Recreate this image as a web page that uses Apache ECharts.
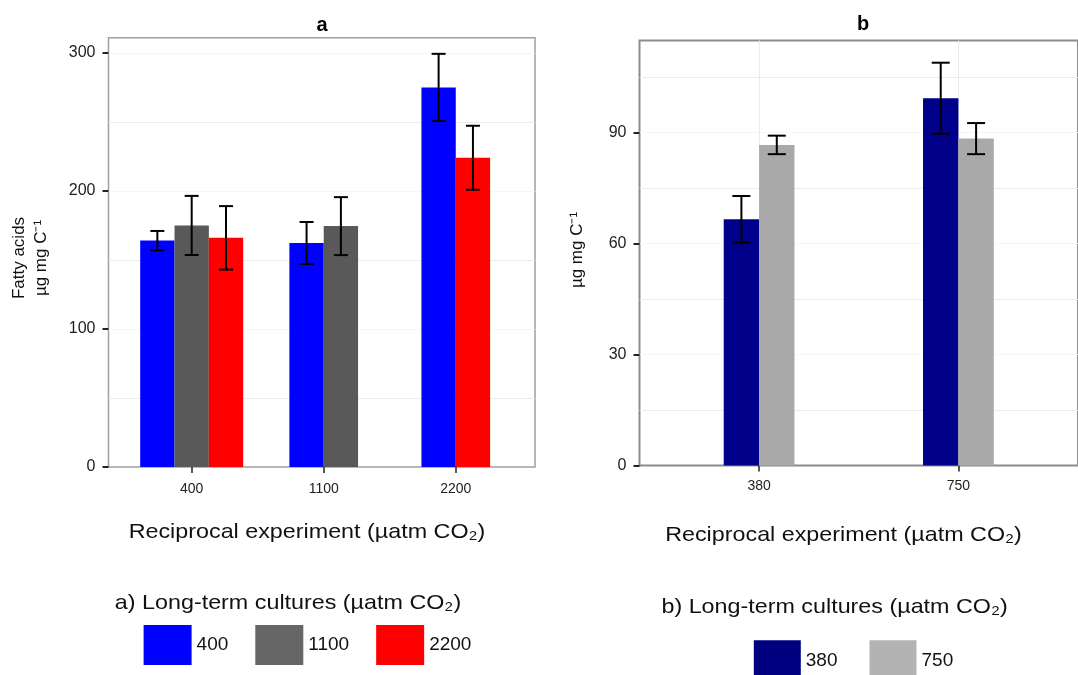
<!DOCTYPE html>
<html>
<head>
<meta charset="utf-8">
<script src="https://cdn.jsdelivr.net/npm/echarts@6/dist/echarts.min.js"></script>
<style>
html,body{margin:0;padding:0;background:#fff;}
#main{width:1078px;height:675px;}
</style>
</head>
<body>
<div id="main"></div>
<script>
// panel a : reciprocal experiment categories / long-term culture groups
var catsA = ['400', '1100', '2200'];
var groupsA = ['400', '1100', '2200'];
var meanA_400 = [164, 162.3, 275];
var meanA_1100 = [175, 174.5, null];
var meanA_2200 = [166, null, 224];
var errA_400 = [7, 15.2, 24.3];
var errA_1100 = [21.4, 21, null];
var errA_2200 = [23, null, 23.2];
var yTicksA = [0, 100, 200, 300];

// panel b
var catsB = ['380', '750'];
var groupsB = ['380', '750'];
var meanB_380 = [66.5, 99.2];
var meanB_750 = [86.6, 88.3];
var errB_380 = [6.3, 9.6];
var errB_750 = [2.5, 4.2];
var yTicksB = [0, 30, 60, 90];

var FONT = '"Liberation Sans", Arial, Helvetica, sans-serif';
var colorsA = ['#0000ff', '#595959', '#ff0000'];
var legendColorsA = ['#0000ff', '#666666', '#ff0000'];
var colorsB = ['#00008b', '#a9a9a9'];
var legendColorsB = ['#000080', '#b3b3b3'];

// build [x, mean, err, slot, n] rows, slot = dodge position inside category
var buildRows = function(means, errs, g){
	var rows = [];
	for(var i=0;i<means[g].length;i++){
		if(means[g][i]==null) continue;
		var present = [];
		for(var k=0;k<means.length;k++){
			if(means[k][i]!=null) present.push(k);
		}
		rows.push([i+1, means[g][i], errs[g][i], present.indexOf(g), present.length]);
	}
	return rows;
};

var makeRender = function(barW, capHalf, color){
	return function(params, api){
		var x = api.value(0), m = api.value(1), e = api.value(2);
		var slot = api.value(3), n = api.value(4);
		var cx = x + (slot - (n - 1) / 2) * barW;
		var p0 = api.coord([cx - barW / 2, 0]);
		var p1 = api.coord([cx + barW / 2, m]);
		var top = api.coord([cx, m + e]);
		var bot = api.coord([cx, m - e]);
		var ls = {stroke:'#000', lineWidth:2};
		return {
			type:'group',
			children:[
				{type:'rect', shape:{x:p0[0], y:p1[1], width:p1[0]-p0[0], height:p0[1]-p1[1]}, style:{fill:color}},
				{type:'line', shape:{x1:top[0], y1:top[1], x2:bot[0], y2:bot[1]}, style:ls},
				{type:'line', shape:{x1:top[0]-capHalf, y1:top[1], x2:top[0]+capHalf, y2:top[1]}, style:ls},
				{type:'line', shape:{x1:bot[0]-capHalf, y1:bot[1], x2:bot[0]+capHalf, y2:bot[1]}, style:ls}
			]
		};
	};
};

var meansA = [meanA_400, meanA_1100, meanA_2200];
var errsA = [errA_400, errA_1100, errA_2200];
var meansB = [meanB_380, meanB_750];
var errsB = [errB_380, errB_750];

var series = [];
for(var g=0;g<groupsA.length;g++){
	series.push({
		name:groupsA[g], type:'custom', xAxisIndex:0, yAxisIndex:0,
		itemStyle:{color:colorsA[g]},
		renderItem:makeRender(0.26, 7, colorsA[g]),
		encode:{x:0, y:1},
		data:buildRows(meansA, errsA, g)
	});
}
for(var h=0;h<groupsB.length;h++){
	series.push({
		name:groupsB[h], type:'custom', xAxisIndex:1, yAxisIndex:2,
		itemStyle:{color:colorsB[h]},
		renderItem:makeRender(0.1775, 9, colorsB[h]),
		encode:{x:0, y:1},
		data:buildRows(meansB, errsB, h)
	});
}

var gridLines = {show:true, showMinLine:false, showMaxLine:false, lineStyle:{color:['#ebebeb', '#f6f6f6'], width:1}};
var tickStyle = {show:true, inside:false, length:6, lineStyle:{color:'#222', width:2}};

// horizontally a bit wider text, like the original figure
var label = function(x, y, txt, size, extra){
	var el = {type:'text', x:x, y:y, scaleX:1.11,
		style:{text:txt, fontSize:size, fontFamily:FONT, fill:'#111', align:'center', verticalAlign:'middle'}};
	if(extra){ for(var k in extra) el.style[k] = extra[k]; }
	return el;
};

var myChart = echarts.init(document.getElementById('main'));
var option = {
	backgroundColor:'#fff',
	animation:false,
	grid:[
		{left:108.5, top:37.7, width:426.5, height:429.3, show:true, borderColor:'#a0a0a0', borderWidth:1.5, containLabel:false},
		{left:639.5, top:40.5, width:445.5, height:425, show:true, borderColor:'#8c8c8c', borderWidth:2, containLabel:false}
	],
	xAxis:[
		{
			gridIndex:0, type:'value', min:0.37, max:3.6,
			axisLine:{show:false},
			axisTick:{show:true, length:6, customValues:[1,2,3], lineStyle:{color:'#222', width:1.5}},
			axisLabel:{customValues:[1,2,3], margin:15, fontSize:14, fontFamily:FONT, color:'#222',
				formatter:function(v){ return catsA[Math.round(v)-1]; }},
			splitLine:{show:false}
		},
		{
			gridIndex:1, type:'value', min:0.4, max:2.6,
			axisLine:{show:false},
			axisTick:{show:true, length:6, customValues:[1,2], lineStyle:{color:'#222', width:1.5}},
			axisLabel:{customValues:[1,2], margin:14, fontSize:14, fontFamily:FONT, color:'#222',
				formatter:function(v){ return catsB[Math.round(v)-1]; }},
			splitLine:{show:true, lineStyle:{color:'#ebebeb', width:1}}
		}
	],
	yAxis:[
		// grid lines (major + minor)
		{gridIndex:0, type:'value', min:0, max:311, interval:50,
			axisLine:{show:false}, axisTick:{show:false}, axisLabel:{show:false}, splitLine:gridLines},
		// ticks and labels
		{gridIndex:0, type:'value', min:0, max:311, position:'left',
			axisLine:{show:false}, axisTick:Object.assign({customValues:yTicksA}, tickStyle),
			axisLabel:{customValues:yTicksA, margin:13, fontSize:16, fontFamily:FONT, color:'#222'},
			splitLine:{show:false}},
		{gridIndex:1, type:'value', min:0, max:114.8, interval:15,
			axisLine:{show:false}, axisTick:{show:false}, axisLabel:{show:false}, splitLine:gridLines},
		{gridIndex:1, type:'value', min:0, max:114.8, position:'left',
			axisLine:{show:false}, axisTick:Object.assign({customValues:yTicksB}, tickStyle),
			axisLabel:{customValues:yTicksB, margin:13, fontSize:16, fontFamily:FONT, color:'#222'},
			splitLine:{show:false}}
	],
	legend:[
		{
			data:groupsA.map(function(n, i){ return {name:n, icon:'rect', itemStyle:{color:legendColorsA[i]}}; }),
			left:138.6, top:620, orient:'horizontal', itemWidth:48, itemHeight:40, itemGap:27,
			selectedMode:false, textStyle:{fontSize:19, fontFamily:FONT, color:'#111', padding:[12,0,0,0]}
		},
		{
			data:groupsB.map(function(n, i){ return {name:n, icon:'rect', itemStyle:{color:legendColorsB[i]}}; }),
			left:748.8, top:635.3, orient:'horizontal', itemWidth:47, itemHeight:40, itemGap:32,
			selectedMode:false, textStyle:{fontSize:19, fontFamily:FONT, color:'#111', padding:[12,0,0,0]}
		}
	],
	graphic:[
		{type:'text', x:322, y:25, style:{text:'a', fontSize:20, fontWeight:'bold', fontFamily:FONT, fill:'#000', align:'center', verticalAlign:'middle'}},
		{type:'text', x:863, y:24, style:{text:'b', fontSize:20, fontWeight:'bold', fontFamily:FONT, fill:'#000', align:'center', verticalAlign:'middle'}},
		label(307, 532, 'Reciprocal experiment (\u00b5atm CO\u2082)', 21),
		label(843.5, 535, 'Reciprocal experiment (\u00b5atm CO\u2082)', 21),
		label(288, 603, 'a) Long-term cultures (\u00b5atm CO\u2082)', 21),
		label(834.6, 607, 'b) Long-term cultures (\u00b5atm CO\u2082)', 21),
		{type:'text', x:30, y:258, rotation:Math.PI/2, style:{text:'Fatty acids\n\u00b5g mg C\u207b\u00b9', fontSize:17, lineHeight:22, fontFamily:FONT, fill:'#111', align:'center', verticalAlign:'middle'}},
		{type:'text', x:577, y:250, rotation:Math.PI/2, style:{text:'\u00b5g mg C\u207b\u00b9', fontSize:17, fontFamily:FONT, fill:'#111', align:'center', verticalAlign:'middle'}}
	],
	series:series
};
myChart.setOption(option);
</script>
</body>
</html>
